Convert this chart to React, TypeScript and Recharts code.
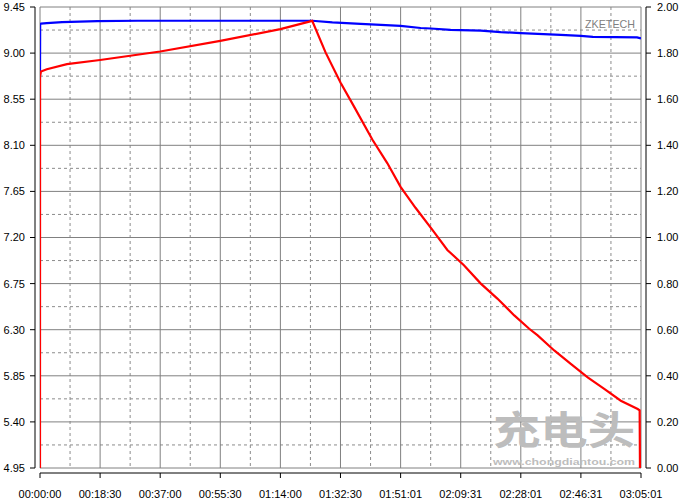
import { LineChart, Line, XAxis, YAxis, CartesianGrid } from 'recharts';

// time axis labels (hh:mm:ss), values are placed in minutes
const xTickLabels = [
  '00:00:00', '00:18:30', '00:37:00', '00:55:30', '01:14:00', '01:32:30',
  '01:51:01', '02:09:31', '02:28:01', '02:46:31', '03:05:01',
];
const voltTicks = [4.95, 5.4, 5.85, 6.3, 6.75, 7.2, 7.65, 8.1, 8.55, 9.0, 9.45];
const ampTicks = [0, 0.2, 0.4, 0.6, 0.8, 1.0, 1.2, 1.4, 1.6, 1.8, 2.0];

// voltage (left axis)
const voltTime = [0, 0.05, 0.3, 2.1, 6.8, 17.6, 30, 60, 83.8, 90, 98.7, 104.9, 111.0, 117.2, 120.3, 126.4, 135.7, 141.8, 148.0, 160.3, 166.5, 170.2, 183.8, 185.0];
const voltValues = [8.76, 9.283, 9.288, 9.293, 9.303, 9.313, 9.316, 9.316, 9.316, 9.3, 9.286, 9.276, 9.265, 9.245, 9.24, 9.227, 9.22, 9.205, 9.195, 9.178, 9.169, 9.159, 9.153, 9.143];

// current (right axis)
const ampTime = [0, 0.02, 0.3, 2.1, 8.3, 18.5, 37, 55.5, 74, 83.8, 87.9, 92.5, 96.6, 102.3, 106.9, 111.0, 115.6, 120.8, 125.4, 130.5, 135.7, 140.8, 146.0, 150.6, 153.2, 158.3, 163.4, 168.6, 173.7, 178.8, 184.0, 184.6, 184.7];
const ampValues = [0, 1.7, 1.72, 1.73, 1.752, 1.77, 1.807, 1.853, 1.904, 1.94, 1.803, 1.672, 1.57, 1.425, 1.323, 1.22, 1.129, 1.033, 0.946, 0.88, 0.8, 0.735, 0.662, 0.604, 0.575, 0.51, 0.452, 0.393, 0.343, 0.292, 0.256, 0.25, 0];

const toMinutes = (s: string) => {
  const [h, m, sec] = s.split(':').map(Number);
  return h * 60 + m + sec / 60;
};
const xTicks = xTickLabels.map(toMinutes);
const midpoints = (arr: number[]) => arr.slice(1).map((v, i) => (v + arr[i]) / 2);

const voltData = voltTime.map((t, i) => ({ t, v: voltValues[i] }));
const ampData = ampTime.map((t, i) => ({ t, a: ampValues[i] }));

const FONT = '"Liberation Sans", Arial, sans-serif';
const tickStyle = { fill: '#000', fontSize: 11, fontFamily: FONT };

export default function App() {
  return (
    <div style={{ position: 'absolute', left: 0, top: 0, width: 682, height: 504, background: '#fff' }}>
      <LineChart width={682} height={504} margin={{ top: 7, right: 5, left: 5, bottom: 0 }}>
        {/* dashed minor grid first, solid major grid above it */}
        <CartesianGrid
          yAxisId="v"
          horizontalValues={midpoints(voltTicks)}
          verticalValues={midpoints(xTicks)}
          stroke="#8c8c8c"
          strokeDasharray="3 3"
        />
        <CartesianGrid
          yAxisId="v"
          horizontalValues={voltTicks}
          verticalValues={xTicks}
          stroke="#808080"
        />
        <XAxis
          type="number"
          dataKey="t"
          domain={[0, xTicks[xTicks.length - 1]]}
          ticks={xTicks}
          interval={0}
          allowDataOverflow
          tickFormatter={(_v, i) => xTickLabels[i]}
          height={36}
          tickSize={5}
          tickMargin={17}
          axisLine={{ stroke: '#000', transform: 'translate(0,5)' }}
          tickLine={{ stroke: '#000', transform: 'translate(0,5)' }}
          tick={tickStyle}
        />
        <YAxis
          yAxisId="v"
          type="number"
          domain={[4.95, 9.45]}
          ticks={voltTicks}
          interval={0}
          allowDataOverflow
          tickFormatter={(v) => v.toFixed(2)}
          width={35}
          tickSize={5}
          tickMargin={10}
          axisLine={{ stroke: '#000', transform: 'translate(-5,0)' }}
          tickLine={{ stroke: '#000', transform: 'translate(-5,0)' }}
          tick={tickStyle}
        />
        <YAxis
          yAxisId="i"
          orientation="right"
          type="number"
          domain={[0, 2]}
          ticks={ampTicks}
          interval={0}
          allowDataOverflow
          tickFormatter={(v) => v.toFixed(2)}
          width={36}
          tickSize={5}
          tickMargin={11}
          axisLine={{ stroke: '#000', transform: 'translate(5,0)' }}
          tickLine={{ stroke: '#000', transform: 'translate(5,0)' }}
          tick={tickStyle}
        />
        <Line
          yAxisId="v"
          data={voltData}
          dataKey="v"
          type="linear"
          stroke="#0000ff"
          strokeWidth={2.2}
          dot={false}
          isAnimationActive={false}
        />
        <Line
          yAxisId="i"
          data={ampData}
          dataKey="a"
          type="linear"
          stroke="#ff0000"
          strokeWidth={2.2}
          dot={false}
          isAnimationActive={false}
        />
      </LineChart>

      {/* brand text and watermark */}
      <svg width={682} height={504} style={{ position: 'absolute', left: 0, top: 0, pointerEvents: 'none' }}>
        <text x={585} y={28} fill="#808080" fontSize={11} fontFamily={FONT} textLength={50} lengthAdjust="spacingAndGlyphs">
          ZKETECH
        </text>
        <text
          x={493}
          y={444}
          fill="#bdbdbd"
          fontSize={39}
          fontWeight="bold"
          fontFamily='"Noto Sans CJK SC", sans-serif'
          textLength={142}
          lengthAdjust="spacingAndGlyphs"
        >
          充电头
        </text>
        <text
          x={493}
          y={465}
          fill="#bdbdbd"
          fontSize={9}
          fontWeight="bold"
          fontFamily={FONT}
          textLength={142}
          lengthAdjust="spacingAndGlyphs"
        >
          www.chongdiantou.com
        </text>
      </svg>
    </div>
  );
}
